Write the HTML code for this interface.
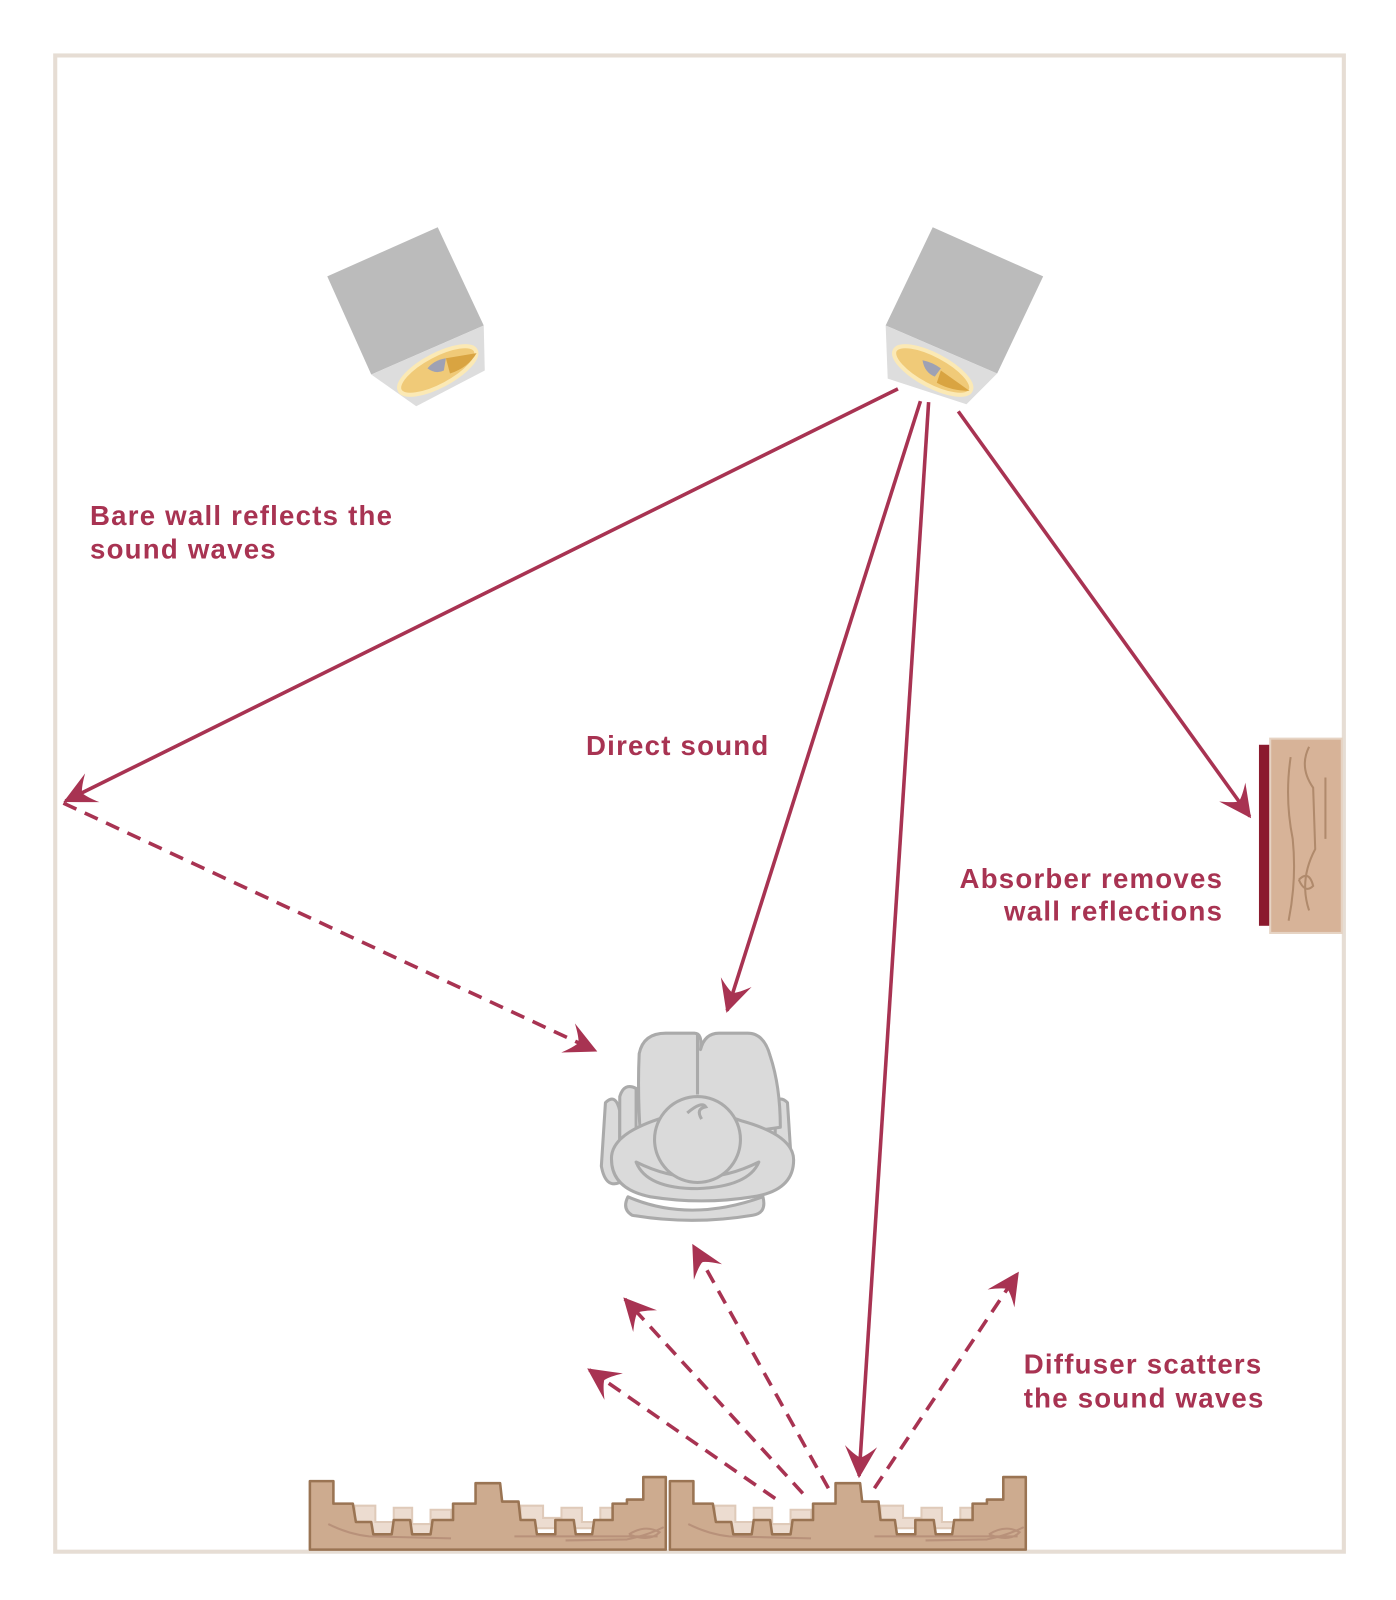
<!DOCTYPE html>
<html><head><meta charset="utf-8"><style>html,body{margin:0;padding:0;background:#fff}svg{display:block}</style></head>
<body>
<svg width="1396" height="1600" viewBox="0 0 1365 1564" xmlns="http://www.w3.org/2000/svg">
<defs>
<marker id="ah" markerWidth="36" markerHeight="36" refX="0" refY="0" viewBox="-28 -16 30 32" orient="auto" markerUnits="userSpaceOnUse">
<path d="M2,0 Q-10,-6 -26,-14 Q-18,-5 -16,0 Q-18,5 -26,14 Q-10,6 2,0 Z" fill="#a83352"/>
</marker>
<g id="diff">
<path d="M44,1472 h20 v16 h18 v-14 h18 v16 h18 v-14 h20 v24 h-94 z" fill="#ecdcd0" stroke="#dfcab9" stroke-width="2"/>
<path d="M206,1472 h22 v12 h18 v-10 h20 v14 h18 v-14 h20 v20 h-98 z" fill="#ecdcd0" stroke="#dfcab9" stroke-width="2"/>
<polygon points="0,1448 23,1448 23,1470 42,1470 45,1488 60,1488 62,1500 80,1500 82,1486 98,1486 100,1500 118,1500 120,1486 140,1486 140,1470 162,1470 162,1450 186,1450 188,1468 204,1468 206,1486 220,1486 222,1500 240,1500 240,1486 258,1486 260,1500 276,1500 278,1486 296,1486 296,1470 310,1470 310,1466 326,1466 326,1444 348,1444 348,1515 0,1515" fill="#cdab8f" stroke="#9a7453" stroke-width="2.5" stroke-linejoin="round"/>
<path d="M18,1490 q20,10 40,12 l80,2 M200,1502 h140 M250,1506 l60,-1 q20,-4 36,-12 M312,1500 q16,-10 30,-2 q-10,10 -30,2" fill="none" stroke="#b8917a" stroke-width="2"/>
</g>
</defs>
<rect x="54" y="54" width="1260" height="1463" fill="none" stroke="#e6ddd4" stroke-width="4"/>

<polygon points="320,270 428,222 473,318 363,366" fill="#bbbbbb"/>
<polygon points="363,366 473,318 474,362 407,397" fill="#dddddd"/>
<ellipse cx="428" cy="362" rx="42" ry="15" transform="rotate(-28 428 362)" fill="#f0ca78" stroke="#fbe9b5" stroke-width="4"/>
<path d="M418,360 q6,-8 18,-10 l-2,12 q-8,4 -16,-2z" fill="#9ea1b4"/>
<path d="M436,350 l30,-5 q-8,14 -26,20 z" fill="#d9a441"/>
<polygon points="912,222 1020,270 975,365 866,318" fill="#bbbbbb"/>
<polygon points="866,318 975,365 945,395 868,370" fill="#dddddd"/>
<ellipse cx="912" cy="362" rx="42" ry="15" transform="rotate(28 912 362)" fill="#f0ca78" stroke="#fbe9b5" stroke-width="4"/>
<path d="M902,352 q10,2 18,8 l-6,8 q-10,-4 -12,-16z" fill="#9ea1b4"/>
<path d="M920,362 l28,20 q-18,0 -32,-8 z" fill="#d9a441"/>

<g stroke="#a83352" stroke-width="3.5" fill="none">
<line x1="878" y1="380" x2="64" y2="783" marker-end="url(#ah)"/>
<line x1="900" y1="392" x2="711" y2="988" marker-end="url(#ah)"/>
<line x1="908" y1="393" x2="840" y2="1443" marker-end="url(#ah)"/>
<line x1="937" y1="402" x2="1222" y2="798" marker-end="url(#ah)"/>
<g stroke-dasharray="14,9">
<line x1="62" y1="785" x2="582" y2="1027" marker-end="url(#ah)"/>
<line x1="758" y1="1465" x2="576" y2="1339" marker-end="url(#ah)"/>
<line x1="785" y1="1460" x2="611" y2="1270" marker-end="url(#ah)"/>
<line x1="810" y1="1455" x2="678" y2="1218" marker-end="url(#ah)"/>
<line x1="855" y1="1455" x2="995" y2="1245" marker-end="url(#ah)"/>
</g>
</g>

<rect x="1231" y="728" width="11" height="177" fill="#8b1a2e"/>
<rect x="1242" y="722" width="70" height="190" fill="#d7b398" stroke="#e6d3c3" stroke-width="2"/>
<path d="M1262,740 q-6,40 2,80 q4,40 -4,80 M1280,730 q-10,20 4,40 l2,60 q-16,30 -6,60 M1296,760 v60 M1270,860 q10,-10 14,6 q-8,8 -14,-6" fill="none" stroke="#b08a6c" stroke-width="2"/>

<g fill="#dadada" stroke="#aaaaaa" stroke-width="3" stroke-linejoin="round">
<path d="M614,1170 q60,26 132,0 q4,16 -10,18 q-60,10 -118,0 q-10,-6 -4,-18z"/>
<path d="M592,1078 q10,-10 14,8 v70 q-14,6 -18,-16 z"/>
<path d="M770,1078 q-10,-10 -14,8 v70 q14,6 18,-16 z"/>
<path d="M606,1072 q4,-14 16,-8 l0,70 q-14,0 -16,-20z"/>
<path d="M758,1072 q-4,-14 -16,-8 l0,70 q14,0 16,-20z"/>
<path d="M625,1030 q4,-20 26,-20 h28 q8,0 6,16 q4,-16 18,-16 h28 q16,0 22,22 q10,30 10,70 l-136,20 q-4,-50 -2,-92z"/>
<path d="M598,1130 q2,-20 40,-34 q44,-16 88,0 q50,14 50,38 q0,30 -40,36 q-50,8 -100,0 q-40,-8 -38,-40z"/>
<path d="M622,1136 q60,30 120,0 q-10,24 -60,26 q-50,0 -60,-26z"/>
<circle cx="682" cy="1114" r="42"/>
</g>
<path d="M682,1010 v60 M672,1088 q14,-12 18,-6 q-10,2 -4,12" fill="none" stroke="#aaaaaa" stroke-width="3"/>

<use href="#diff" x="303"/>
<use href="#diff" x="655"/>

<g font-family="'Liberation Sans', sans-serif" font-weight="bold" font-size="27" fill="#a83352" letter-spacing="1.2">
<text x="88" y="513">Bare wall reflects the</text>
<text x="88" y="546">sound waves</text>
<text x="573" y="738">Direct sound</text>
<text x="1196" y="868" text-anchor="end">Absorber removes</text>
<text x="1196" y="900" text-anchor="end">wall reflections</text>
<text x="1001" y="1343">Diffuser scatters</text>
<text x="1001" y="1376">the sound waves</text>
</g>
</svg>
</body></html>
